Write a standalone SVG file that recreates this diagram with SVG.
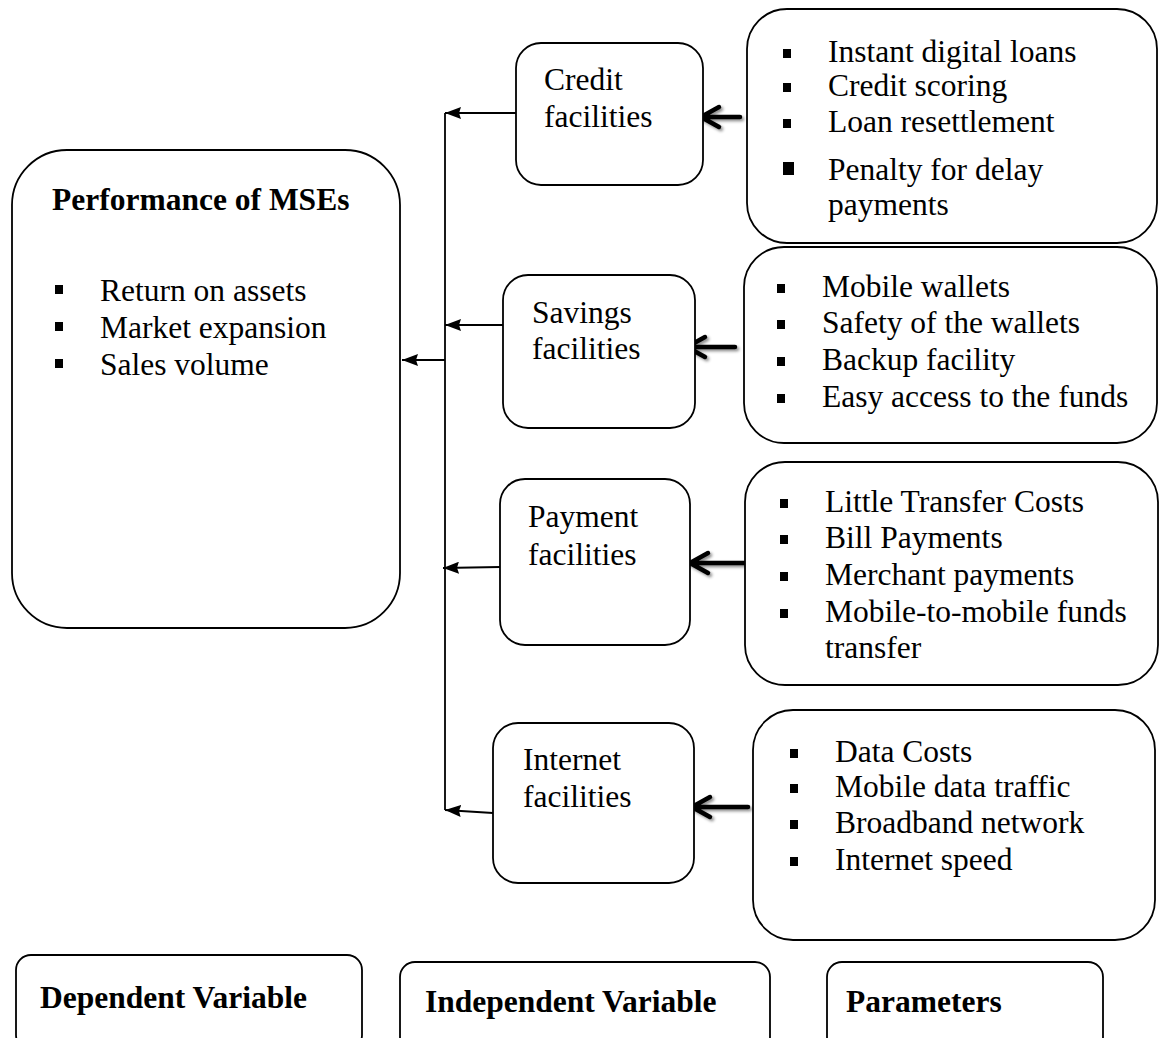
<svg xmlns="http://www.w3.org/2000/svg" width="1160" height="1038" viewBox="0 0 1160 1038">
<style>
.box{fill:#fff;stroke:#000;stroke-width:1.8}
.t{font-family:"Liberation Serif","Times New Roman",serif;font-size:31.5px;fill:#000}
.b{font-weight:bold}
.bl{fill:#000}
.thin{fill:none;stroke:#000;stroke-width:1.8}
.thick{fill:none;stroke:#000;stroke-width:4.5;stroke-linecap:round;stroke-linejoin:round}
</style>
<defs>
<marker id="ah" viewBox="0 0 16 12" markerWidth="16" markerHeight="12" refX="16" refY="6" orient="auto" markerUnits="userSpaceOnUse">
<path d="M0,0 L16,6 L0,12 L2,6 z" fill="#000"/>
</marker>
<filter id="sh" x="-30%" y="-50%" width="160%" height="200%">
<feDropShadow dx="2" dy="2" stdDeviation="1.5" flood-color="#000" flood-opacity="0.45"/>
</filter>
</defs>
<rect width="1160" height="1038" fill="#fff"/>

<g id="connectors">
<line class="thin" x1="445" y1="113" x2="445" y2="810"/>
<line class="thin" x1="516" y1="113" x2="445" y2="113" marker-end="url(#ah)"/>
<line class="thin" x1="503" y1="325" x2="445" y2="325" marker-end="url(#ah)"/>
<line class="thin" x1="500" y1="567" x2="443" y2="568" marker-end="url(#ah)"/>
<line class="thin" x1="493" y1="813" x2="445" y2="810" marker-end="url(#ah)"/>
<line class="thin" x1="445" y1="360" x2="402" y2="360" marker-end="url(#ah)"/>
<g filter="url(#sh)">
<path class="thick" d="M740,117 H701 M719,107 L701,117 L719,127"/>
<path class="thick" d="M735,347 H687 M705,337 L687,347 L705,357"/>
<path class="thick" d="M745,563 H690 M708,553 L690,563 L708,573"/>
<path class="thick" d="M748,807 H692 M710,797 L692,807 L710,817"/>
</g>
</g>

<g id="performance">
<rect class="box" x="12" y="150" width="388" height="478" rx="55"/>
<text class="t b" x="52" y="210">Performance of MSEs</text>
<rect class="bl" x="55" y="285" width="8" height="9"/>
<rect class="bl" x="55" y="322" width="8" height="9"/>
<rect class="bl" x="55" y="359" width="8" height="9"/>
<text class="t" x="100" y="301">Return on assets</text>
<text class="t" x="100" y="338">Market expansion</text>
<text class="t" x="100" y="375">Sales volume</text>
</g>

<g id="credit">
<rect class="box" x="516" y="43" width="187" height="142" rx="25"/>
<text class="t" x="544" y="90">Credit</text>
<text class="t" x="544" y="127">facilities</text>
</g>

<g id="savings">
<rect class="box" x="503" y="275" width="192" height="153" rx="25"/>
<text class="t" x="532" y="323">Savings</text>
<text class="t" x="532" y="359">facilities</text>
</g>

<g id="payment">
<rect class="box" x="500" y="479" width="190" height="166" rx="25"/>
<text class="t" x="528" y="527">Payment</text>
<text class="t" x="528" y="565">facilities</text>
</g>

<g id="internet">
<rect class="box" x="493" y="723" width="201" height="160" rx="25"/>
<text class="t" x="523" y="770">Internet</text>
<text class="t" x="523" y="807">facilities</text>
</g>

<g id="credit-params">
<rect class="box" x="747" y="9" width="410" height="234" rx="40"/>
<rect class="bl" x="783" y="49" width="8" height="9"/>
<rect class="bl" x="783" y="83" width="8" height="9"/>
<rect class="bl" x="783" y="119" width="8" height="9"/>
<rect class="bl" x="783" y="162" width="11" height="13"/>
<text class="t" x="828" y="62">Instant digital loans</text>
<text class="t" x="828" y="96">Credit scoring</text>
<text class="t" x="828" y="132">Loan resettlement</text>
<text class="t" x="828" y="180">Penalty for delay</text>
<text class="t" x="828" y="215">payments</text>
</g>

<g id="savings-params">
<rect class="box" x="744" y="247" width="413" height="196" rx="40"/>
<rect class="bl" x="777" y="284" width="8" height="9"/>
<rect class="bl" x="777" y="320" width="8" height="9"/>
<rect class="bl" x="777" y="357" width="8" height="9"/>
<rect class="bl" x="777" y="394" width="8" height="9"/>
<text class="t" x="822" y="297">Mobile wallets</text>
<text class="t" x="822" y="333">Safety of the wallets</text>
<text class="t" x="822" y="370">Backup facility</text>
<text class="t" x="822" y="407">Easy access to the funds</text>
</g>

<g id="payment-params">
<rect class="box" x="745" y="462" width="413" height="223" rx="40"/>
<rect class="bl" x="780" y="499" width="8" height="9"/>
<rect class="bl" x="780" y="535" width="8" height="9"/>
<rect class="bl" x="780" y="572" width="8" height="9"/>
<rect class="bl" x="780" y="609" width="8" height="9"/>
<text class="t" x="825" y="512">Little Transfer Costs</text>
<text class="t" x="825" y="548">Bill Payments</text>
<text class="t" x="825" y="585">Merchant payments</text>
<text class="t" x="825" y="622">Mobile-to-mobile funds</text>
<text class="t" x="825" y="658">transfer</text>
</g>

<g id="internet-params">
<rect class="box" x="753" y="710" width="402" height="230" rx="40"/>
<rect class="bl" x="790" y="749" width="8" height="9"/>
<rect class="bl" x="790" y="784" width="8" height="9"/>
<rect class="bl" x="790" y="820" width="8" height="9"/>
<rect class="bl" x="790" y="857" width="8" height="9"/>
<text class="t" x="835" y="762">Data Costs</text>
<text class="t" x="835" y="797">Mobile data traffic</text>
<text class="t" x="835" y="833">Broadband network</text>
<text class="t" x="835" y="870">Internet speed</text>
</g>

<g id="legend-dependent">
<rect class="box" x="16" y="955" width="346" height="95" rx="15"/>
<text class="t b" x="40" y="1008">Dependent Variable</text>
</g>
<g id="legend-independent">
<rect class="box" x="400" y="962" width="370" height="90" rx="15"/>
<text class="t b" x="425" y="1012">Independent Variable</text>
</g>
<g id="legend-parameters">
<rect class="box" x="827" y="962" width="276" height="90" rx="15"/>
<text class="t b" x="846" y="1012">Parameters</text>
</g>
</svg>
